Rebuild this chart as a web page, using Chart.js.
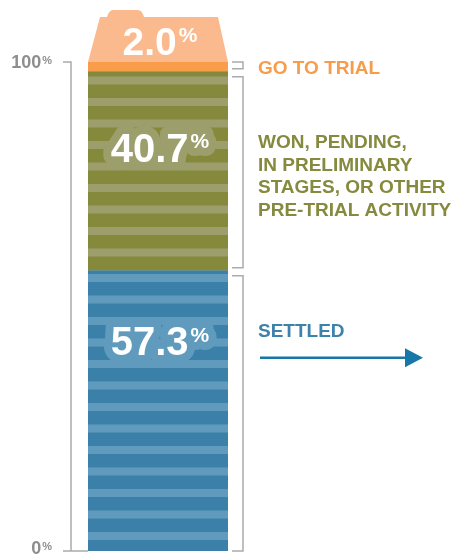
<!DOCTYPE html>
<html>
<head>
<meta charset="utf-8">
<script src="https://cdn.jsdelivr.net/npm/chart.js@4.4.1/dist/chart.umd.min.js"></script>
<style>
  html, body { margin: 0; padding: 0; background: #fff; }
  #wrap { width: 451px; height: 557px; position: relative; }
</style>
</head>
<body>
<div id="wrap"><canvas id="caseChart"></canvas></div>
<script>
// one stacked column, listed bottom to top
const categories = ['Cases'];
const outcomes = ['Settled', 'Won, pending, in preliminary stages, or other pre-trial activity', 'Go to trial'];
const shares = [57.3, 40.7, 2.0];
const outcomeText = [
    ['SETTLED'],
    ['WON, PENDING,', 'IN PRELIMINARY', 'STAGES, OR OTHER', 'PRE-TRIAL ACTIVITY'],
    ['GO TO TRIAL']
];
const yTicks = [0, 100];

const darkColors = ['#3a80a8', '#85893c', '#f99d4b'];
const lightColors = ['#609bbe', '#9c9e6c', '#fbb98e'];
const textColors = ['#3d82aa', '#858a3e', '#f79c4a'];
const FONT = '"Liberation Sans", Arial, sans-serif';

// horizontal stripes, two per 43px tile so the period is 21.5px
function stripes(dark, light, shift) {
    const c = document.createElement('canvas');
    c.width = 8;
    c.height = 43;
    const g = c.getContext('2d');
    g.fillStyle = dark;
    g.fillRect(0, 0, 8, 43);
    g.fillStyle = light;
    g.fillRect(0, 0, 8, 8);
    g.fillRect(0, 21.5, 8, 8);
    const p = g.createPattern(c, 'repeat');
    p.setTransform(new DOMMatrix([1, 0, 0, 1, 0, shift]));
    return p;
}

const fills = [
    stripes(darkColors[0], lightColors[0], 16),
    stripes(darkColors[1], lightColors[1], 12),
    darkColors[2]
];

// big number with a small raised % sign
function pctLabel(ctx, num, cx, cy, size, halo) {
    const small = Math.round(size * 0.53);
    ctx.font = `bold ${size}px ${FONT}`;
    const w1 = ctx.measureText(num).width;
    ctx.font = `bold ${small}px ${FONT}`;
    const w2 = ctx.measureText('%').width;
    const x0 = cx - (w1 + w2 + 2) / 2;
    const base = cy + size * 0.358;
    const capTop = cy - size * 0.358;
    const pBase = capTop + small * 0.72;
    ctx.textAlign = 'left';
    ctx.textBaseline = 'alphabetic';
    if (halo) {
        ctx.strokeStyle = halo;
        ctx.lineJoin = 'round';
        ctx.lineWidth = 16;
        ctx.font = `bold ${size}px ${FONT}`;
        ctx.strokeText(num, x0, base);
        ctx.font = `bold ${small}px ${FONT}`;
        ctx.strokeText('%', x0 + w1 + 2, pBase);
    }
    ctx.fillStyle = '#fff';
    ctx.font = `bold ${size}px ${FONT}`;
    ctx.fillText(num, x0, base);
    ctx.font = `bold ${small}px ${FONT}`;
    ctx.fillText('%', x0 + w1 + 2, pBase);
}

const annotate = {
    id: 'annotate',
    afterDraw(chart) {
        const { ctx } = chart;
        const y = chart.scales.y;
        const bars = chart.data.datasets.map((d, i) => chart.getDatasetMeta(i).data[0]);
        const half = bars[0].width / 2;
        const left = bars[0].x - half;
        const right = bars[0].x + half;
        const cx = bars[0].x;
        const top = y.getPixelForValue(100);
        const bot = y.getPixelForValue(0);
        const last = bars.length - 1;

        ctx.save();

        // left axis with the two ticks
        ctx.strokeStyle = '#ababab';
        ctx.lineWidth = 1.5;
        const ax = left - 17;
        ctx.beginPath();
        ctx.moveTo(ax - 8, top);
        ctx.lineTo(ax, top);
        ctx.lineTo(ax, bot);
        ctx.moveTo(ax - 8, bot);
        ctx.lineTo(left, bot);
        ctx.stroke();

        ctx.fillStyle = '#8e8e8e';
        ctx.textBaseline = 'alphabetic';
        yTicks.forEach(v => {
            const py = y.getPixelForValue(v);
            const by = Math.min(py + 6, chart.height - 3);
            ctx.font = `bold 11px ${FONT}`;
            const wp = ctx.measureText('%').width;
            ctx.textAlign = 'right';
            ctx.fillText('%', ax - 19, by - 4);
            ctx.font = `bold 18px ${FONT}`;
            ctx.fillText(String(v), ax - 20 - wp, by);
        });

        // right brackets, one per segment
        const bx = right + 15;
        bars.forEach((b, i) => {
            const t = i === last ? b.y : b.y + 5;
            const e = i === 0 ? b.base : b.base - 3;
            ctx.beginPath();
            ctx.moveTo(bx - 11, t);
            ctx.lineTo(bx, t);
            ctx.lineTo(bx, e);
            ctx.lineTo(bx - 11, e);
            ctx.stroke();
        });

        // enlarged tab above the column for the small top segment
        const tb = bars[last];
        ctx.fillStyle = lightColors[last];
        ctx.beginPath();
        ctx.moveTo(left, tb.y);
        ctx.lineTo(left + 12, tb.y - 45);
        ctx.lineTo(left + 19, tb.y - 45);
        ctx.quadraticCurveTo(left + 21, tb.y - 52, left + 25, tb.y - 52);
        ctx.lineTo(left + 50, tb.y - 52);
        ctx.quadraticCurveTo(left + 54, tb.y - 52, left + 56, tb.y - 45);
        ctx.lineTo(right - 10, tb.y - 45);
        ctx.lineTo(right, tb.y);
        ctx.closePath();
        ctx.fill();
        pctLabel(ctx, shares[last].toFixed(1), cx + 2, tb.y - 21, 39, null);

        // values inside the column
        const spots = [0.75, 0.62];
        [0, 1].forEach(i => {
            const v = shares.slice(0, i).reduce((a, b) => a + b, 0) + shares[i] * spots[i];
            pctLabel(ctx, shares[i].toFixed(1), cx + 2, y.getPixelForValue(v), 40, lightColors[i]);
        });

        // outcome names on the right
        const tx = right + 30;
        ctx.textAlign = 'left';
        ctx.font = `bold 19px ${FONT}`;
        ctx.fillStyle = textColors[2];
        ctx.fillText(outcomeText[2][0], tx, (bars[2].y + bars[2].base) / 2 + 7);
        ctx.fillStyle = textColors[1];
        outcomeText[1].forEach((line, k) => {
            ctx.fillText(line, tx, bars[1].y + 76 + k * 22.8);
        });
        ctx.fillStyle = textColors[0];
        const sy = bars[0].y + 66;
        ctx.fillText(outcomeText[0][0], tx, sy);

        // arrow under "settled"
        const ay = sy + 21;
        ctx.strokeStyle = '#1777a8';
        ctx.fillStyle = '#1777a8';
        ctx.lineWidth = 2.5;
        ctx.beginPath();
        ctx.moveTo(tx + 2, ay);
        ctx.lineTo(right + 180, ay);
        ctx.stroke();
        ctx.beginPath();
        ctx.moveTo(right + 177, ay - 9.5);
        ctx.lineTo(right + 195, ay);
        ctx.lineTo(right + 177, ay + 9.5);
        ctx.closePath();
        ctx.fill();

        ctx.restore();
    }
};

const data = {
    labels: categories,
    datasets: outcomes.map((name, i) => ({
        label: name,
        data: [shares[i]],
        backgroundColor: fills[i],
        borderWidth: 0,
        barPercentage: 1,
        categoryPercentage: 1
    }))
};

new Chart(document.getElementById('caseChart').getContext('2d'), {
    type: 'bar',
    data: data,
    options: {
        responsive: true,
        maintainAspectRatio: false,
        animation: false,
        devicePixelRatio: 1,
        layout: { padding: { left: 88, right: 223, top: 62, bottom: 6 } },
        plugins: {
            legend: { display: false },
            tooltip: { enabled: false }
        },
        scales: {
            x: { stacked: true, display: false },
            y: { stacked: true, display: false, min: 0, max: 100 }
        }
    },
    plugins: [annotate]
});
</script>
</body>
</html>
